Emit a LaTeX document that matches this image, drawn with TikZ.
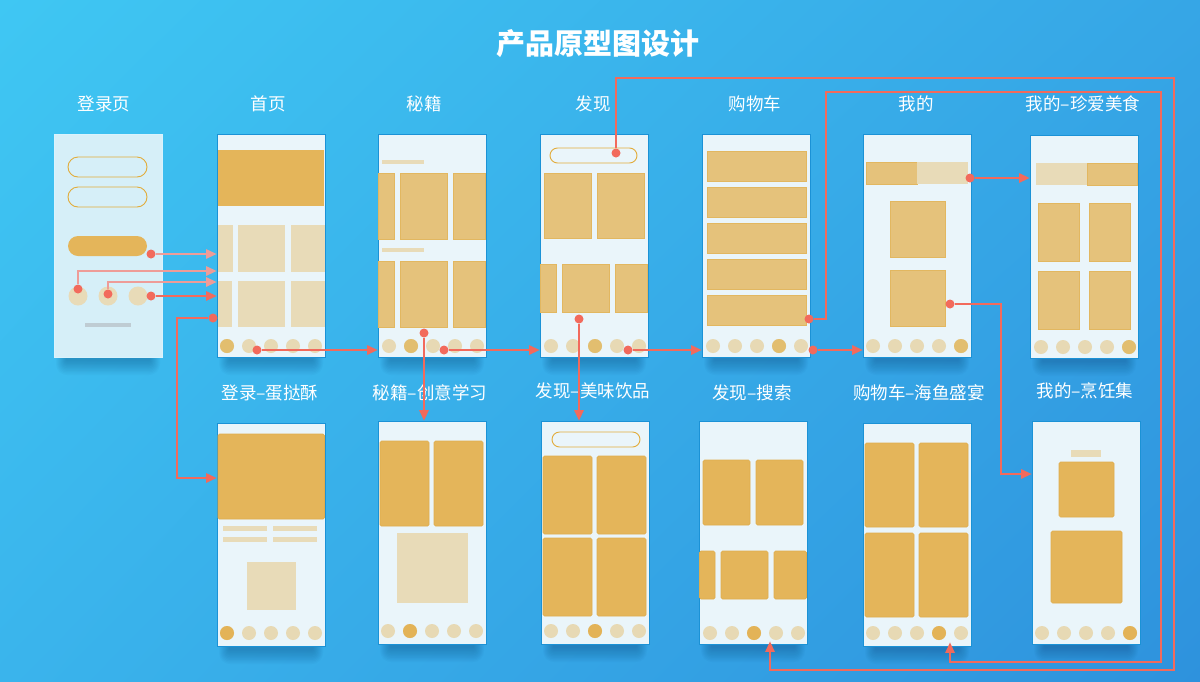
\documentclass[tikz,border=0pt]{standalone}
\usepackage{fontspec}
\setmainfont{Noto Sans CJK SC}
\usetikzlibrary{arrows.meta,shadings}
\definecolor{bgTL}{HTML}{3FC7F3}
\definecolor{bgTR}{HTML}{36A6E6}
\definecolor{bgBL}{HTML}{3AB4EC}
\definecolor{bgBR}{HTML}{2E92DD}
\definecolor{scrfill}{HTML}{EAF5FA}
\definecolor{scrline}{HTML}{1B92D6}
\definecolor{loginfill}{HTML}{D6EFF8}
\definecolor{strongc}{HTML}{E4B55A}
\definecolor{strongl}{HTML}{DFAD4E}
\definecolor{medc}{HTML}{E5C27B}
\definecolor{medl}{HTML}{E2B760}
\definecolor{beigec}{HTML}{E8DBB8}
\definecolor{inactc}{HTML}{E7D9B4}
\definecolor{acttop}{HTML}{E2BE6F}
\definecolor{actbot}{HTML}{E3B357}
\definecolor{pillc}{HTML}{E2AC3A}
\definecolor{grayc}{HTML}{BFCCD3}
\definecolor{redc}{HTML}{F26A5C}
\definecolor{redl}{HTML}{EE9C98}
\definecolor{shadowc}{HTML}{0A3D6E}
\newcommand\scrshadow[4]{%
  \foreach \i in {0,...,10}{%
    \fill[shadowc,opacity=0.03,rounded corners=1+\i] (#1+12-\i,#2+20-\i) rectangle (#3-12+\i,#4+4+1.4*\i);}}
\newcommand\tabrow[4]{%
  \foreach \k in {0,...,4}{\fill[inactc] (#1+22*\k,#2) circle (7);}
  \fill[#4] (#1+22*#3,#2) circle (7);}
\newcommand\medbox[4]{\filldraw[fill=medc,draw=medl,line width=0.7pt] (#1,#2) rectangle (#3,#4);}
\newcommand\strbox[4]{\filldraw[fill=strongc,draw=strongl,line width=0.7pt,rounded corners=1.5] (#1,#2) rectangle (#3,#4);}
\newcommand\bgbox[4]{\fill[beigec] (#1,#2) rectangle (#3,#4);}
\begin{document}
\begin{tikzpicture}[x=1pt,y=-1pt,
  screen/.style={draw=scrline,line width=0.8pt,fill=scrfill,inner sep=0pt,
    minimum width=108pt,minimum height=223pt},
  lbl/.style={text=white,inner sep=0pt,font=\fontsize{17.5}{21}\selectfont},
  conn/.style={draw=redc,line width=1.3pt,-{Triangle[length=10.5pt,width=9.5pt]}},
  dotn/.style={circle,fill=redc,inner sep=0pt,minimum size=9pt},
  pill/.style={draw=pillc,line width=0.9pt,rounded corners=7.5}]
\useasboundingbox (0,0) rectangle (1200,681);
\shade[upper left=bgTL,upper right=bgTR,lower left=bgBL,lower right=bgBR] (0,0) rectangle (1200,681);

% shadows
\scrshadow{54}{134}{162}{357}
\scrshadow{217}{134}{325}{357}
\scrshadow{378}{134}{486}{357}
\scrshadow{540}{134}{648}{357}
\scrshadow{702}{134}{810}{357}
\scrshadow{863}{134}{971}{357}
\scrshadow{1030}{135}{1138}{358}
\scrshadow{217}{423}{325}{646}
\scrshadow{378}{421}{486}{644}
\scrshadow{541}{421}{649}{644}
\scrshadow{699}{421}{807}{644}
\scrshadow{863}{423}{971}{646}
\scrshadow{1032}{421}{1140}{644}

% title
\node[text=white,font=\fontsize{29}{34}\selectfont\bfseries] (title) at (598,44) {产品原型图设计};

% labels
\node[lbl] (t1) at (104,104) {登录页};
\node[lbl] (t2) at (268,104) {首页};
\node[lbl] (t3) at (424,104) {秘籍};
\node[lbl] (t4) at (593,104) {发现};
\node[lbl] (t5) at (755,104) {购物车};
\node[lbl] (t6) at (916,104) {我的};
\node[lbl] (t7) at (1083,104) {我的–珍爱美食};
\node[lbl] (u1) at (270,393) {登录–蛋挞酥};
\node[lbl] (u2) at (430,393) {秘籍–创意学习};
\node[lbl] (u3) at (593,391) {发现–美味饮品};
\node[lbl] (u4) at (752,393) {发现–搜索};
\node[lbl] (u5) at (919,393) {购物车–海鱼盛宴};
\node[lbl] (u6) at (1085,391) {我的–烹饪集};

% screens
\node[screen,fill=loginfill,draw=white!85!cyan] (s1) at (108,245.5) {};
\node[screen] (s2) at (271,245.5) {};
\node[screen] (s3) at (432,245.5) {};
\node[screen] (s4) at (594,245.5) {};
\node[screen] (s5) at (756,245.5) {};
\node[screen] (s6) at (917,245.5) {};
\node[screen] (s7) at (1084,246.5) {};
\node[screen] (b1) at (271,534.5) {};
\node[screen] (b2) at (432,532.5) {};
\node[screen] (b3) at (595,532.5) {};
\node[screen] (b4) at (753,532.5) {};
\node[screen] (b5) at (917,534.5) {};
\node[screen] (b6) at (1086,532.5) {};

% login content
\draw[pill,rounded corners=10] (68,157) rectangle (147,177);
\draw[pill,rounded corners=10] (68,187) rectangle (147,207);
\fill[strongc,rounded corners=10] (68,236) rectangle (147,256);
\foreach \cx in {78,108,138}{\fill[beigec] (\cx,296) circle (9.5);}
\fill[grayc] (85,323) rectangle (131,327);

% home
\fill[strongc] (218,150) rectangle (324,206);
\bgbox{217.5}{225}{233}{272}\bgbox{238}{225}{285}{272}\bgbox{291}{225}{324.5}{272}
\bgbox{217.5}{281}{232}{327}\bgbox{238}{281}{285}{327}\bgbox{291}{281}{324.5}{327}
\tabrow{227}{346}{0}{acttop}

% miji
\bgbox{382}{160}{424}{164}\bgbox{382}{248}{424}{252}
\medbox{378.5}{173}{394}{239}\medbox{400}{173}{447}{239}\medbox{453}{173}{485.5}{239}
\medbox{378.5}{261}{394}{327}\medbox{400}{261}{447}{327}\medbox{453}{261}{485.5}{327}
\tabrow{389}{346}{1}{acttop}

% faxian
\draw[pill] (550,148) rectangle (637,163);
\medbox{544}{173}{591}{238}\medbox{597}{173}{644}{238}
\medbox{540.5}{264}{556}{312}\medbox{562}{264}{609}{312}\medbox{615}{264}{647.5}{312}
\tabrow{551}{346}{2}{acttop}

% gouwuche
\foreach \yy in {151,187,223,259,295}{\medbox{707}{\yy}{806}{\yy+30}}
\tabrow{713}{346}{3}{acttop}

% wode
\medbox{866}{162}{917}{184}\bgbox{917}{162}{968}{184}
\medbox{890}{201}{945}{257}\medbox{890}{270}{945}{326}
\tabrow{873}{346}{4}{acttop}

% wode - zhenai
\bgbox{1036}{163}{1087}{185}\medbox{1087}{163}{1137.5}{185}
\medbox{1038}{203}{1079}{261}\medbox{1089}{203}{1130}{261}
\medbox{1038}{271}{1079}{329}\medbox{1089}{271}{1130}{329}
\tabrow{1041}{347}{4}{acttop}

% b1
\strbox{218}{434}{324.5}{519}
\bgbox{223}{526}{267}{531}\bgbox{273}{526}{317}{531}
\bgbox{223}{537}{267}{542}\bgbox{273}{537}{317}{542}
\bgbox{247}{562}{296}{610}
\tabrow{227}{633}{0}{actbot}

% b2
\strbox{380}{441}{429}{526}\strbox{434}{441}{483}{526}
\bgbox{397}{533}{468}{603}
\tabrow{388}{631}{1}{actbot}

% b3
\draw[pill] (552,432) rectangle (640,447);
\strbox{543}{456}{592}{534}\strbox{597}{456}{646}{534}
\strbox{543}{538}{592}{616}\strbox{597}{538}{646}{616}
\tabrow{551}{631}{2}{actbot}

% b4
\strbox{703}{460}{750}{525}\strbox{756}{460}{803}{525}
\strbox{699.5}{551}{715}{599}\strbox{721}{551}{768}{599}\strbox{774}{551}{806.5}{599}
\tabrow{710}{633}{2}{actbot}

% b5
\strbox{865}{443}{914}{527}\strbox{919}{443}{968}{527}
\strbox{865}{533}{914}{617}\strbox{919}{533}{968}{617}
\tabrow{873}{633}{3}{actbot}

% b6
\bgbox{1071}{450}{1101}{457}
\strbox{1059}{462}{1114}{517}\strbox{1051}{531}{1122}{603}
\tabrow{1042}{633}{4}{actbot}

% dots
\node[dotn] (l1) at (151,254) {};
\node[dotn] (l2) at (78,289) {};
\node[dotn] (l3) at (108,294) {};
\node[dotn] (l4) at (151,296) {};
\node[dotn] (h5) at (213,318) {};
\node[dotn] (h6) at (257,350) {};
\node[dotn] (m1) at (424,333) {};
\node[dotn] (m2) at (444,350) {};
\node[dotn] (f1) at (616,153) {};
\node[dotn] (f2) at (579,319) {};
\node[dotn] (f3) at (628,350) {};
\node[dotn] (c1) at (809,319) {};
\node[dotn] (c2) at (813,350) {};
\node[dotn] (w1) at (970,178) {};
\node[dotn] (w2) at (950,304) {};

% bend points
\coordinate (k1) at (177,478);
\coordinate (o1) at (1174,78);
\coordinate (o2) at (770,670);
\coordinate (i1) at (826,92);
\coordinate (i2) at (1161,662);
\coordinate (k2) at (1001,474);

% connectors
\draw[conn,draw=redl] (l1) -- (l1 -| s2.west);
\draw[conn,draw=redl] (l2) |- (s2.west |- 0,271);
\draw[conn,draw=redl] (l3) |- (s2.west |- 0,282);
\draw[conn] (l4) -- (l4 -| s2.west);
\draw[conn] (h5) -| (k1) -- (k1 -| b1.west);
\draw[conn] (h6) -- (h6 -| s3.west);
\draw[conn] (m1) -- (m1 |- b2.north);
\draw[conn] (m2) -- (m2 -| s4.west);
\draw[conn,shorten >=-3pt] (f1) |- (o1) |- (o2) -- (o2 |- b4.south);
\draw[conn] (f2) -- (f2 |- b3.north);
\draw[conn] (f3) -- (f3 -| s5.west);
\draw[conn,shorten >=-4pt] (c1) -| (i1) -| (i2) -| (b5.south -| 950,0);
\draw[conn] (c2) -- (c2 -| s6.west);
\draw[conn] (w1) -- (w1 -| s7.west);
\draw[conn] (w2) -| (k2) -- (k2 -| b6.west);
\end{tikzpicture}
\end{document}
